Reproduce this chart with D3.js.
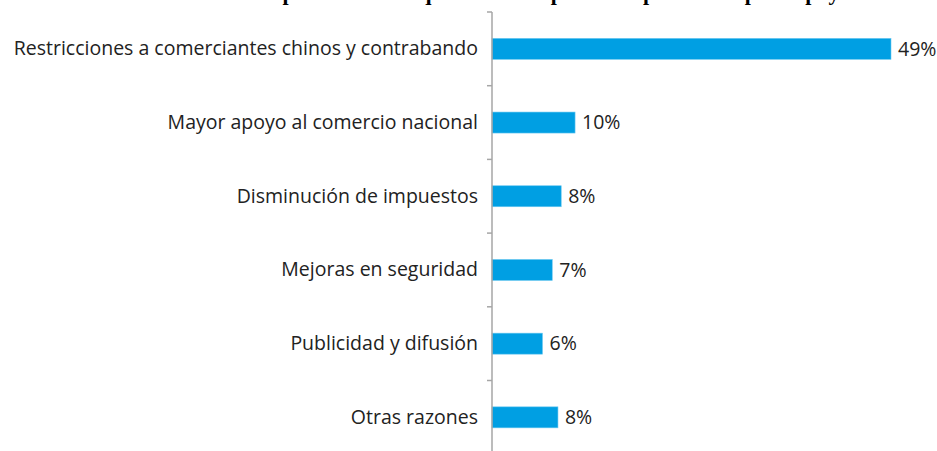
<!DOCTYPE html>
<html>
<head>
<meta charset="utf-8">
<script src="https://cdn.jsdelivr.net/npm/d3@7"></script>
<style>
  body { margin: 0; background: #fff; }
  svg { display: block; }
</style>
</head>
<body>
<svg></svg>
<script>
// data
let categories = [
    "Restricciones a comerciantes chinos y contrabando",
    "Mayor apoyo al comercio nacional",
    "Disminución de impuestos",
    "Mejoras en seguridad",
    "Publicidad y difusión",
    "Otras razones"
]
let values = [49, 10.2, 8.5, 7.4, 6.2, 8.1]
let valueLabels = ["49%", "10%", "8%", "7%", "6%", "8%"]
let titleText = "Principales medidas que el Estado podría implementar para apoyar al comercio según"

let width = 937
let height = 451
let axisX = 492
let topY = 12
let bandH = 73.7

let svg = d3.select("svg")
    .attr("width", width)
    .attr("height", height)

// title, cut off at the top of the picture (only descenders show)
svg.append("text")
    .attr("x", 225)
    .attr("y", 0)
    .style("font-family", "'Liberation Serif', serif")
    .style("font-weight", "bold")
    .style("font-size", "22px")
    .attr("fill", "#000")
    .text(titleText)

let xScale = d3.scaleLinear()
    .domain([0, 49])
    .range([axisX, 891])

let yScale = d3.scaleBand()
    .domain(categories)
    .range([topY, topY + bandH * categories.length])

// bars
svg.selectAll("rect.bar")
    .data(values)
    .enter()
    .append("rect")
    .attr("class", "bar")
    .attr("x", xScale(0))
    .attr("y", (d, i) => yScale(categories[i]) + yScale.bandwidth() / 2 - 10.5)
    .attr("width", (d) => xScale(d) - xScale(0))
    .attr("height", 21)
    .attr("fill", "#009fe3")
    .attr("stroke", "#6cc8f0")
    .attr("stroke-width", 0.6)

// value labels
svg.selectAll("text.val")
    .data(values)
    .enter()
    .append("text")
    .attr("class", "val")
    .attr("x", (d) => xScale(d) + 7)
    .attr("y", (d, i) => yScale(categories[i]) + yScale.bandwidth() / 2)
    .attr("dy", "0.35em")
    .style("font-family", "'Open Sans', sans-serif")
    .style("font-size", "19.5px")
    .attr("fill", "#222")
    .text((d, i) => valueLabels[i])

// axis with ticks between categories
let yAxis = d3.axisLeft(yScale).tickSize(0).tickPadding(14)
let g = svg.append("g")
    .attr("transform", "translate(" + axisX + ",0)")
    .call(yAxis)

g.select(".domain").remove()
g.selectAll("text")
    .style("font-family", "'Open Sans', sans-serif")
    .style("font-size", "19.5px")
    .attr("fill", "#222")

g.append("line")
    .attr("y1", topY)
    .attr("y2", height + 5)
    .attr("stroke", "#a6a6a6")
    .attr("stroke-width", 1.5)

let boundaries = d3.range(categories.length + 1).map((i) => topY + i * bandH)
g.selectAll("line.tk")
    .data(boundaries)
    .enter()
    .append("line")
    .attr("class", "tk")
    .attr("x1", -5)
    .attr("x2", 0)
    .attr("y1", (d) => d)
    .attr("y2", (d) => d)
    .attr("stroke", "#a6a6a6")
    .attr("stroke-width", 1.5)
</script>
</body>
</html>
